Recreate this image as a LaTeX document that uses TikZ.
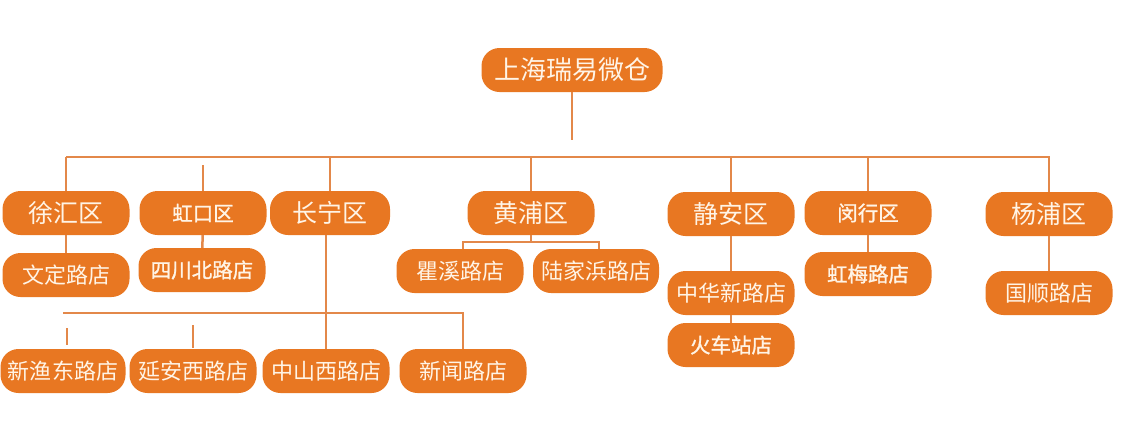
\documentclass[tikz,border=0pt]{standalone}
\usepackage{fontspec}
\usepackage{tikz}
\usetikzlibrary{positioning,calc}
\newfontfamily\cjk{Noto Sans CJK SC}
\newfontfamily\cjkb[FakeBold=1.2]{Noto Sans CJK SC}
\definecolor{orgfill}{HTML}{E87722}
\definecolor{orgline}{HTML}{E3884A}
\definecolor{cream}{HTML}{FFF4E6}

\begin{document}
\begin{tikzpicture}[x=1pt,y=-1pt,
  box/.style={rectangle,rounded corners=18pt,fill=orgfill,text=cream,minimum width=127pt,minimum height=44pt,inner sep=0pt,font=\cjk\fontsize{22}{22}\selectfont},
  area/.style={box,font=\cjk\fontsize{25}{25}\selectfont},
  boldbox/.style={box,font=\cjkb\fontsize{20.5}{20.5}\selectfont},
  link/.style={draw=orgline,line width=2.5pt}]
\useasboundingbox (0,0) rectangle (1142,432);
% top
\node[box,minimum width=181pt,font=\cjk\fontsize{26}{26}\selectfont] (root) at (572,70) {上海瑞易微仓};
% districts
\node[area] (xuhui) at (66,213) {徐汇区};
\node[area,minimum width=120pt] (changning) at (330,213) {长宁区};
\node[boldbox] (hongkou) at (203,213) {虹口区};
\node[area] (huangpu) at (531,213) {黄浦区};
\node[area] (jingan) at (731,214) {静安区};
\node[boldbox] (minhang) at (868,213) {闵行区};
\node[area] (yangpu) at (1049,214) {杨浦区};
% stores
\node[box] (wending) at (66,275) {文定路店};
\node[boldbox] (sichuanbei) at (202,270) {四川北路店};
\node[box] (quxi) at (460,271) {瞿溪路店};
\node[box,minimum width=126pt] (lujiabang) at (596,271) {陆家浜路店};
\node[box] (zhonghuaxin) at (731,293) {中华新路店};
\node[boldbox] (huochezhan) at (731,345) {火车站店};
\node[boldbox] (hongmei) at (868,274) {虹梅路店};
\node[box] (guoshun) at (1049,293) {国顺路店};
\node[box,minimum width=125pt] (xinyudong) at (63,371) {新渔东路店};
\node[box] (yananxi) at (193,371) {延安西路店};
\node[box] (zhongshanxi) at (326,371) {中山西路店};
\node[box] (xinwen) at (463,371) {新闻路店};
% connectors
\coordinate (busL) at (66,157);
\coordinate (busR) at (1050,157);
\coordinate (hpbar) at (531,242);
\coordinate (cnbus) at (63,313);
\draw[link] (root.south) -- ++(0,48);
\draw[link] (busL) -- (busR);
\foreach \d in {xuhui,changning,huangpu,jingan,minhang,yangpu}{
  \draw[link] (\d.north) -- (\d.north |- busL);
}
\draw[link] (hongkou.north) -- ++(0,-26);
\draw[link] (xuhui) -- (wending);
\draw[link] (hongkou) -- (sichuanbei);
\draw[link] (jingan) -- (zhonghuaxin);
\draw[link] (zhonghuaxin) -- (huochezhan);
\draw[link] (minhang) -- (hongmei);
\draw[link] (yangpu) -- (guoshun);
\draw[link] (huangpu.south) -- (hpbar);
\draw[link] ([xshift=3pt]quxi.north) |- (hpbar) -| ([xshift=3pt]lujiabang.north);
\draw[link] (zhongshanxi.north) -- (zhongshanxi.north |- changning.south);
\draw[link] (cnbus) -| (xinwen.north);
\draw[link] ([xshift=4pt,yshift=4pt]xinyudong.north) -- ++(0,-17);
\draw[link] ([yshift=1pt]yananxi.north) -- ++(0,-23);
\end{tikzpicture}
\end{document}
